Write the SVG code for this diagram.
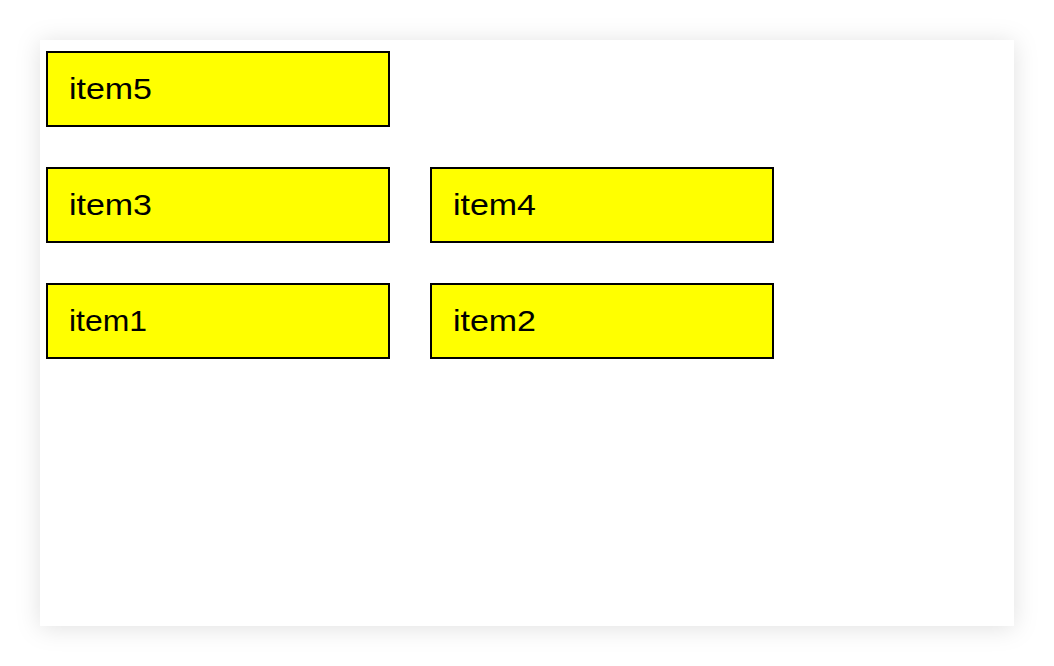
<svg xmlns="http://www.w3.org/2000/svg" width="1054" height="666" viewBox="0 0 1054 666">
<defs>
<filter id="sh" x="-10%" y="-10%" width="120%" height="120%">
<feDropShadow dx="0" dy="2" stdDeviation="12" flood-color="#000" flood-opacity="0.12"/>
</filter>
<style>
.box{fill:#ffff00;stroke:#000;stroke-width:2}
.lbl{font-family:"Liberation Sans",Arial,sans-serif;font-size:30px;fill:#000}
</style>
</defs>
<rect x="0" y="0" width="1054" height="666" fill="#fff"/>
<rect x="40" y="40" width="974" height="586" fill="#fff" filter="url(#sh)"/>
<g id="item5"><rect class="box" x="47" y="52" width="342" height="74"/><text class="lbl" x="69" y="99" textLength="83" lengthAdjust="spacingAndGlyphs">item5</text></g>
<g id="item3"><rect class="box" x="47" y="168" width="342" height="74"/><text class="lbl" x="69" y="215" textLength="83" lengthAdjust="spacingAndGlyphs">item3</text></g>
<g id="item4"><rect class="box" x="431" y="168" width="342" height="74"/><text class="lbl" x="453" y="215" textLength="83" lengthAdjust="spacingAndGlyphs">item4</text></g>
<g id="item1"><rect class="box" x="47" y="284" width="342" height="74"/><text class="lbl" x="69" y="331" textLength="78" lengthAdjust="spacingAndGlyphs">item1</text></g>
<g id="item2"><rect class="box" x="431" y="284" width="342" height="74"/><text class="lbl" x="453" y="331" textLength="83" lengthAdjust="spacingAndGlyphs">item2</text></g>
<g id="connectors"/>
</svg>
